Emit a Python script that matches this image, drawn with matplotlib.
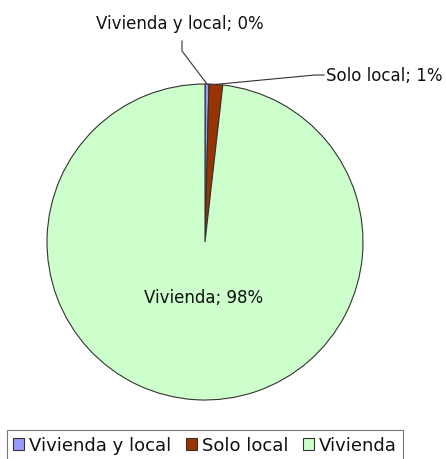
import numpy as np
import matplotlib
matplotlib.use("Agg")
import matplotlib.pyplot as plt
from matplotlib.patches import Patch

categories = ["Vivienda y local", "Solo local", "Vivienda"]
values = [0.4, 1.4, 98.2]
labels_pct = ["0%", "1%", "98%"]
colors = ["#9999FF", "#993300", "#CCFFCC"]

W, H = 446, 460
cx, cy, R = 205, 243, 158

fig = plt.figure(figsize=(W / 100, H / 100), dpi=100)
ax = fig.add_axes([0, 0, 1, 1])

def px(x, y):
    return ((x - cx) / R, (cy - y) / R)

wedges, _ = ax.pie(values, colors=colors, startangle=90, counterclock=False,
                   radius=1, center=(0, 0), frame=True,
                   wedgeprops=dict(edgecolor="#333333", linewidth=0.8))
ax.set_xlim(-cx / R, (W - cx) / R)
ax.set_ylim(-(H - cy) / R, cy / R)
ax.set_aspect("auto")
ax.axis("off")

fs = 12
tc = "#111111"
ax.text(*px(180, 24), f"{categories[0]}; {labels_pct[0]}", ha="center", va="center", fontsize=fs, color=tc)
ax.text(*px(326, 76), f"{categories[1]}; {labels_pct[1]}", ha="left", va="center", fontsize=fs, color=tc)
ax.text(*px(204, 298), f"{categories[2]}; {labels_pct[2]}", ha="center", va="center", fontsize=fs, color=tc)

def edge_point(i):
    w = wedges[i]
    ang = np.deg2rad((w.theta1 + w.theta2) / 2)
    return np.cos(ang), np.sin(ang)

e0 = edge_point(0)
p_a = px(182, 42); p_b = px(182, 52)
ax.plot([p_a[0], p_b[0], e0[0]], [p_a[1], p_b[1], e0[1]], color="#333333", lw=0.8)
e1 = edge_point(1)
p_c = px(315, 76); p_d = px(324, 76)
ax.plot([e1[0], p_c[0], p_d[0]], [e1[1], p_c[1], p_d[1]], color="#333333", lw=0.8)

handles = [Patch(facecolor=c, edgecolor="#333333", linewidth=0.8) for c in colors]
leg = fig.legend(handles, categories, loc="upper left",
                 bbox_to_anchor=(7 / W, 1 - 431 / H), ncol=3, fontsize=13,
                 frameon=True, fancybox=False, handlelength=0.6, handleheight=0.6,
                 handletextpad=0.25, columnspacing=0.85, borderpad=0.35, borderaxespad=0)
for t in leg.get_texts():
    t.set_color(tc)
leg.get_frame().set_edgecolor("#555555")
leg.get_frame().set_linewidth(0.8)

fig.savefig("out.png", dpi=100)
